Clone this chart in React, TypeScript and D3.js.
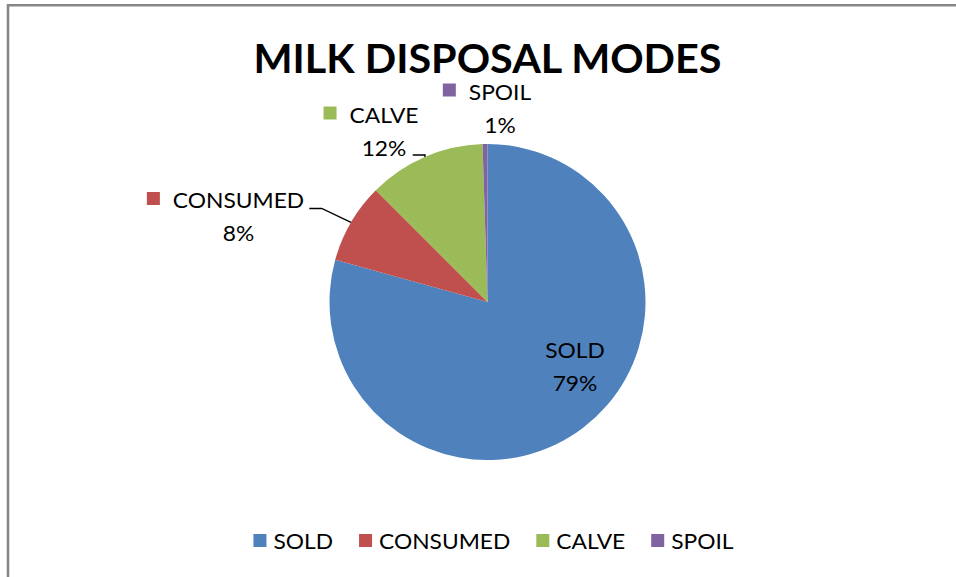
import React, { useEffect, useRef } from "react";
import * as d3 from "d3";

const categories = ["SOLD", "CONSUMED", "CALVE", "SPOIL"];
const values = [79.3, 8.2, 12.0, 0.5];
const colors = ["#4F81BD", "#C0504D", "#9BBB59", "#8064A2"];
const title = "MILK DISPOSAL MODES";

const W = 956;
const H = 577;
const CX = 487.5;
const CY = 302;
const R = 158;
const FONT = "Lato, 'Open Sans', sans-serif";
const LABEL_SIZE = 21.5;
const SX = 1.06;
const LINE_GAP = 33;
const KEY = 13;

type Layout = { x: number; y: number; key: boolean; leader?: [number, number] };
const labelLayout: Record<string, Layout> = {
  SOLD: { x: 575, y: 358, key: false },
  CONSUMED: { x: 238.5, y: 208, key: true, leader: [309.3, 208.5] },
  CALVE: { x: 384, y: 122.5, key: true, leader: [412.7, 155] },
  SPOIL: { x: 500, y: 99.5, key: true },
};

export default function App() {
  const ref = useRef<SVGSVGElement | null>(null);

  useEffect(() => {
    document.body.style.margin = "0";
    const svg = d3.select(ref.current);
    svg.selectAll("*").remove();

    svg.append("rect").attr("width", W).attr("height", H).attr("fill", "#fff");

    // border
    svg
      .append("path")
      .attr("d", `M8,${H} V5.3 H${W}`)
      .attr("fill", "none")
      .attr("stroke", "#878787")
      .attr("stroke-width", 2.6);

    // title
    svg
      .append("text")
      .attr("x", CX)
      .attr("y", 72.5)
      .attr("text-anchor", "middle")
      .attr("font-family", FONT)
      .attr("font-weight", 700)
      .attr("font-size", 41)
      .attr("textLength", 468)
      .attr("lengthAdjust", "spacingAndGlyphs")
      .attr("fill", "#000")
      .text(title);

    const total = d3.sum(values);
    const data = categories.map((c, i) => ({ c, v: values[i], color: colors[i], pct: Math.round((values[i] / total) * 100) }));
    const pie = d3.pie<any>().value((d: any) => d.v).sort(null);
    const arcs = pie(data);
    const arc = d3.arc<any>().innerRadius(0).outerRadius(R);

    const g = svg.append("g").attr("transform", `translate(${CX},${CY})`);
    g.selectAll("path.slice")
      .data(arcs)
      .join("path")
      .attr("class", "slice")
      .attr("d", arc as any)
      .attr("fill", (d: any) => d.data.color);

    const addText = (parent: any, x: number, y: number, s: string, anchor = "middle") =>
      parent
        .append("text")
        .attr("transform", `translate(${x},${y}) scale(${SX},1)`)
        .attr("text-anchor", anchor)
        .attr("font-family", FONT)
        .attr("font-size", LABEL_SIZE)
        .attr("fill", "#000")
        .text(s);

    // leader lines
    arcs.forEach((a: any) => {
      const lay = labelLayout[a.data.c];
      if (!lay.leader) return;
      const mid = (a.startAngle + a.endAngle) / 2;
      const px = CX + R * Math.sin(mid);
      const py = CY - R * Math.cos(mid);
      const [sx, sy] = lay.leader;
      svg
        .append("path")
        .attr("d", `M${sx},${sy} H${sx + 12.4} L${px},${py}`)
        .attr("fill", "none")
        .attr("stroke", "#000")
        .attr("stroke-width", 1.3);
    });

    // data labels
    arcs.forEach((a: any) => {
      const lay = labelLayout[a.data.c];
      const t = addText(svg, lay.x, lay.y, a.data.c);
      addText(svg, lay.x, lay.y + LINE_GAP, `${a.data.pct}%`);
      if (lay.key) {
        const w = (t.node() as SVGTextElement).getComputedTextLength() * SX;
        svg
          .append("rect")
          .attr("x", lay.x - w / 2 - 13 - KEY)
          .attr("y", lay.y - 16)
          .attr("width", KEY)
          .attr("height", KEY)
          .attr("fill", a.data.color);
      }
    });

    // legend
    const lg = svg.append("g");
    const items: { w: number; t: any; r: any }[] = [];
    data.forEach((d) => {
      const r = lg.append("rect").attr("y", 534).attr("width", KEY).attr("height", KEY).attr("fill", d.color);
      const t = addText(lg, 0, 549, d.c, "start");
      const w = (t.node() as SVGTextElement).getComputedTextLength() * SX;
      items.push({ w, t, r });
    });
    const gapKey = 7;
    const gapItem = 26;
    const totalW = d3.sum(items, (it) => KEY + gapKey + it.w) + gapItem * (items.length - 1);
    let x = 493.5 - totalW / 2;
    items.forEach((it) => {
      it.r.attr("x", x);
      it.t.attr("transform", `translate(${x + KEY + gapKey},549) scale(${SX},1)`);
      x += KEY + gapKey + it.w + gapItem;
    });
  }, []);

  return <svg ref={ref} width={W} height={H} style={{ display: "block" }} />;
}
